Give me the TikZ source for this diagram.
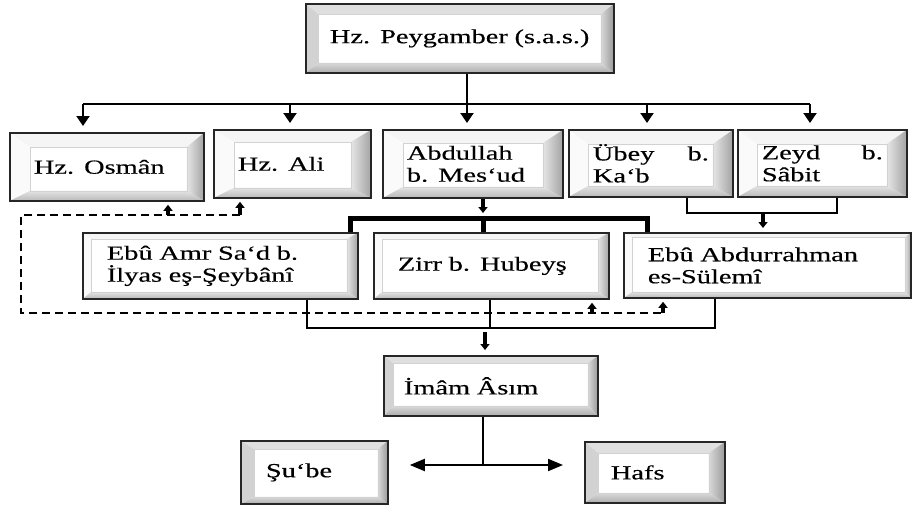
\documentclass[tikz,border=0pt]{standalone}
\usepackage{fontspec}
\setmainfont{Liberation Serif}[FakeStretch=1.42,FakeBold=0.4]
\usetikzlibrary{arrows.meta}
\tikzset{
  bevel/.code args={#1/#2/#3/#4}{\def\bvL{#1}\def\bvT{#2}\def\bvR{#3}\def\bvB{#4}},
  lighttone/.code={\colorlet{bxL}{gray!4}\colorlet{bxT}{gray!8}\colorlet{bxRa}{gray!20}\colorlet{bxRb}{gray!72}\colorlet{bxBa}{gray!22}\colorlet{bxBb}{gray!55}},
  heavytone/.code={\colorlet{bxL}{gray!35}\colorlet{bxT}{gray!25}\colorlet{bxRa}{gray!30}\colorlet{bxRb}{gray!80}\colorlet{bxBa}{gray!30}\colorlet{bxBb}{gray!65}},
  box/.style={draw=black!85, line width=1.8pt, fill=white, anchor=north west,
    inner xsep=24pt, inner ysep=0pt, align=left,
    font=\fontsize{20}{22}\selectfont, lighttone, bevel=20/13/18/10,
    path picture={
      \coordinate (q1) at (path picture bounding box.north west);
      \coordinate (q2) at (path picture bounding box.north east);
      \coordinate (q3) at (path picture bounding box.south east);
      \coordinate (q4) at (path picture bounding box.south west);
      \coordinate (i1) at ([shift={(\bvL,\bvT)}]q1);
      \coordinate (i2) at ([shift={(-\bvR,\bvT)}]q2);
      \coordinate (i3) at ([shift={(-\bvR,-\bvB)}]q3);
      \coordinate (i4) at ([shift={(\bvL,-\bvB)}]q4);
      \fill[bxT] (q1) -- (q2) -- (i2) -- (i1) -- cycle;
      \fill[bxL] (q1) -- (i1) -- (i4) -- (q4) -- cycle;
      \shade[left color=bxRa, right color=bxRb] (q2) -- (q3) -- (i3) -- (i2) -- cycle;
      \shade[top color=bxBa, bottom color=bxBb] (q4) -- (q3) -- (i3) -- (i4) -- cycle;
      \draw[gray!35, line width=0.8pt] (i1) rectangle (i3);
    }},
  ln/.style={line width=2pt},
  arr/.style={line width=2pt, -{Triangle[width=13pt,length=10pt]}, shorten >=6pt},
  fat/.style={line width=3.5pt, -{Triangle[width=9pt,length=6pt]}},
  dsh/.style={line width=1.4pt, dash pattern=on 8pt off 5pt},
  tk/.style={line width=5pt},
  harr/.style={line width=2pt, -{Triangle[width=12pt,length=15pt]}, shorten >=21pt},
}
\begin{document}
\begin{tikzpicture}[x=1pt,y=-1pt]
\useasboundingbox (0,0) rectangle (912,506);

% boxes
\node[box, heavytone, bevel=12/10/13/10, inner xsep=20pt, text width=268pt, minimum height=69pt] (P) at (305,3) {\hspace*{4pt}Hz. Peygamber (s.a.s.)};

\node[box, bevel=20/14/17/10, text width=146pt, minimum height=68pt] (osman) at (9,132) {Hz. Osmân};
\node[box, bevel=20/12/20/10, text width=109pt, minimum height=68pt] (ali) at (213,129) {Hz. Ali};
\node[box, bevel=20/13/20/11, text width=132pt, minimum height=68pt] (abd) at (382,129) {Abdullah\\b. Mes‘ud};
\node[box, bevel=19/14/20/11, text width=116pt, minimum height=67pt] (ubey) at (568,129) {\makebox[116pt]{Übey\hfill b.}\\Ka‘b};
\node[box, bevel=19/14/20/11, text width=121pt, minimum height=67pt] (zeyd) at (737,129) {\makebox[121pt]{Zeyd\hfill b.}\\Sâbit};

\node[box, bevel=8/6/11/7, text width=227pt, minimum height=66pt] (amr) at (82,232) {Ebû Amr Sa‘d b.\\İlyas eş-Şeybânî};
\node[box, bevel=8/6/11/7, text width=187pt, minimum height=66pt] (zirr) at (373,232) {Zirr b. Hubeyş};
\node[box, bevel=8/4/6/6, text width=239pt, minimum height=65pt] (sul) at (623,232) {Ebû Abdurrahman\\es-Sülemî};

\node[box, heavytone, bevel=9/7/10/10, inner xsep=20pt, text width=174pt, minimum height=60pt] (imam) at (383,355) {İmâm Âsım};
\node[box, heavytone, bevel=13/8/10/7, inner xsep=25pt, text width=97pt, minimum height=63pt] (sube) at (240,440) {Şu‘be};
\node[box, heavytone, bevel=13/11/16/10, inner xsep=26pt, text width=88pt, minimum height=61pt] (hafs) at (584,441) {Hafs};

% top bus
\coordinate (b1) at (83,104);
\coordinate (b2) at (290,104);
\coordinate (b3) at (467,104);
\coordinate (b4) at (647,104);
\coordinate (b5) at (810,104);
\draw[ln] (b3 |- P.south) -- (b3);
\draw[ln] (b1) -- (b5);
\draw[arr] (b1) -- (b1 |- osman.north);
\draw[arr] (b2) -- (b2 |- ali.north);
\draw[arr] (b3) -- (b3 |- abd.north);
\draw[arr] (b4) -- (b4 |- ubey.north);
\draw[arr] (b5) -- (b5 |- zeyd.north);

% thick bus from Abdullah
\coordinate (tL) at (350,218);
\coordinate (tC) at (483,218);
\coordinate (tR) at (647,218);
\draw[fat, shorten >=5pt] (tC |- abd.south) -- (tC);
\draw[tk] (tL |- amr.north) -- (tL) -- (tR) -- (tR |- sul.north);
\draw[tk] (tC) -- (tC |- zirr.north);

% Übey / Zeyd
\coordinate (u1) at (687,213);
\coordinate (u2) at (837,213);
\coordinate (uC) at (763,213);
\draw[line width=2.5pt] (u1 |- ubey.south) -- (u1) -- (u2) -- (u2 |- zeyd.south);
\draw[fat, shorten >=4pt] (uC) -- (uC |- sul.north);

% dashed link
\coordinate (d1) at (168,215);
\coordinate (d2) at (240,215);
\coordinate (d3) at (21,215);
\coordinate (d4) at (21,313);
\coordinate (d5) at (592,313);
\coordinate (d6) at (663,313);
\draw[dsh] (d2) -- (d3) -- (d4) -- (d6);
\draw[fat, shorten >=3pt] (d1) -- (d1 |- osman.south);
\draw[fat, shorten >=3pt] (d2) -- (d2 |- ali.south);
\draw[fat, shorten >=3pt] (d5) -- (d5 |- zirr.south);
\draw[fat, shorten >=3pt] (d6) -- (d6 |- sul.south);

% lower bus
\coordinate (l1) at (307,328);
\coordinate (l2) at (490,328);
\coordinate (l3) at (715,328);
\coordinate (lA) at (485,332);
\draw[ln] (l1 |- amr.south) -- (l1) -- (l3) -- (l3 |- sul.south);
\draw[ln] (l2 |- zirr.south) -- (l2);
\draw[fat, shorten >=5pt] (lA) -- (lA |- imam.north);

% Imam to students
\coordinate (m) at (483,465);
\draw[ln] (m |- imam.south) -- (m);
\draw[harr] (m) -- (sube.east |- m);
\draw[harr] (m) -- (hafs.west |- m);
\end{tikzpicture}
\end{document}
